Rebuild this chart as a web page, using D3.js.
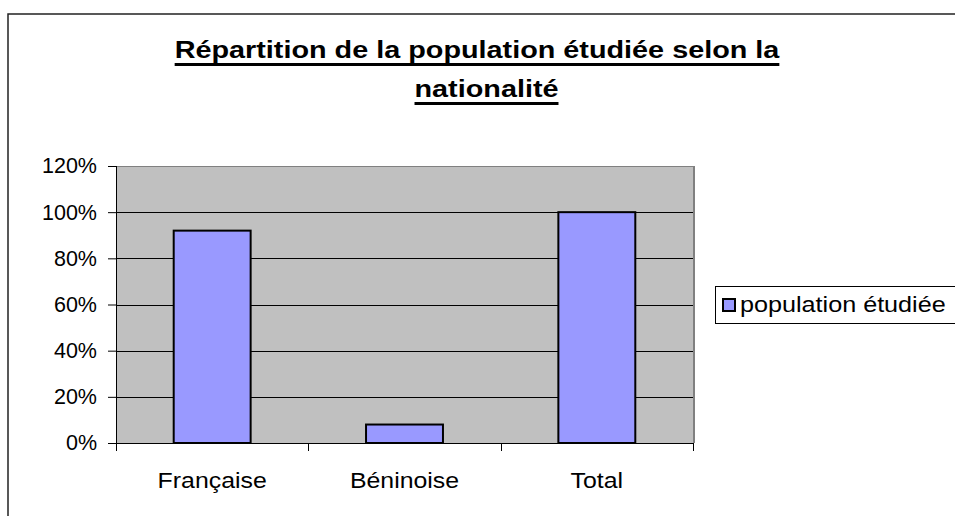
<!DOCTYPE html>
<html><head><meta charset="utf-8">
<script src="https://cdn.jsdelivr.net/npm/d3@7"></script>
<style>body{margin:0;background:#fff}svg{display:block;font-family:"Liberation Sans",Arial,sans-serif}</style>
</head><body><svg id="c" width="955" height="516"></svg>
<script>
const categories = ["Française", "Béninoise", "Total"];
const values = [0.92, 0.08, 1.0];
const seriesName = "population étudiée";
const yTicks = [0, 0.2, 0.4, 0.6, 0.8, 1.0, 1.2];
const titleLines = ["Répartition de la population étudiée selon la", "nationalité"];

const svg = d3.select("#c");
const L = 116, R = 693, T = 166, B = 443;
// outer frame
svg.append("rect").attr("x", 8).attr("y", 14).attr("width", 960).attr("height", 520)
  .attr("fill", "none").attr("stroke", "#222").attr("stroke-width", 1.5);

const x = d3.scaleBand().domain(categories).range([L, R]).padding(0);
const y = d3.scaleLinear().domain([0, 1.2]).range([B, T]);

svg.append("rect").attr("x", L).attr("y", T).attr("width", R - L).attr("height", B - T)
  .attr("fill", "#c0c0c0");
// grid
svg.append("g").selectAll("line").data(yTicks.slice(1)).join("line")
  .attr("x1", L).attr("x2", R).attr("y1", d => Math.round(y(d)) + 0.5).attr("y2", d => Math.round(y(d)) + 0.5)
  .attr("stroke", d => d === 1.2 ? "#808080" : "#000").attr("stroke-width", 1);
// right border of plot
svg.append("line").attr("x1", R + 1).attr("x2", R + 1).attr("y1", T).attr("y2", B)
  .attr("stroke", "#808080").attr("stroke-width", 2);

// bars
svg.append("g").selectAll("rect").data(values).join("rect")
  .attr("x", (d, i) => x(categories[i]) + x.bandwidth() * 0.3)
  .attr("width", x.bandwidth() * 0.4)
  .attr("y", d => y(d))
  .attr("height", d => y(0) - y(d))
  .attr("fill", "#9999ff").attr("stroke", "#000").attr("stroke-width", 2);

// y axis
const ya = svg.append("g").attr("transform", `translate(${L},0)`)
  .call(d3.axisLeft(y).tickValues(yTicks).tickFormat(d3.format(".0%")).tickSize(8).tickPadding(11));
ya.select(".domain").attr("stroke", "#000").attr("d", `M0.5,${T}V${B + 8}`);
ya.selectAll(".tick line").attr("stroke", "#000");
ya.selectAll("text").attr("font-size", 21.5).attr("fill", "#000").attr("font-family", "Liberation Sans, Arial, sans-serif");

// x axis
const xa = svg.append("g").attr("transform", `translate(0,${B})`)
  .call(d3.axisBottom(x).tickSize(0).tickFormat(() => ""));
xa.select(".domain").attr("stroke", "#000").attr("d", `M${L},0.5H${R}`);
svg.append("g").selectAll("text").data(categories).join("text")
  .attr("transform", d => `translate(${x(d) + x.bandwidth() / 2},${B + 45}) scale(1.13,1)`)
  .attr("text-anchor", "middle").attr("font-size", 22).attr("fill", "#000").text(d => d);
// category separators
const seps = categories.map(c => x(c)).concat([R]);
svg.append("g").selectAll("line").data(seps).join("line")
  .attr("x1", d => Math.round(d) + 0.5).attr("x2", d => Math.round(d) + 0.5)
  .attr("y1", B).attr("y2", B + 8).attr("stroke", "#000");

// title
const titleX = [477, 486.5];
const tScale = 1.2;
titleLines.forEach((t, i) => {
  const by = 58 + i * 39;
  const tx = svg.append("text").attr("transform", `translate(${titleX[i]},${by}) scale(${tScale},1)`)
    .attr("text-anchor", "middle").attr("font-size", 24).attr("font-weight", "bold").text(t);
  const w = tx.node().getComputedTextLength() * tScale;
  svg.append("rect").attr("x", titleX[i] - w / 2).attr("y", by + 5).attr("width", w).attr("height", 3).attr("fill", "#000");
});

// legend
const lg = svg.append("g");
lg.append("rect").attr("x", 715.5).attr("y", 286.5).attr("width", 260).attr("height", 37)
  .attr("fill", "#fff").attr("stroke", "#000");
lg.append("rect").attr("x", 723).attr("y", 299).attr("width", 12).attr("height", 12)
  .attr("fill", "#9999ff").attr("stroke", "#000").attr("stroke-width", 2);
lg.append("text").attr("transform", "translate(740,312) scale(1.145,1)").attr("font-size", 22).text(seriesName);
</script></body></html>
